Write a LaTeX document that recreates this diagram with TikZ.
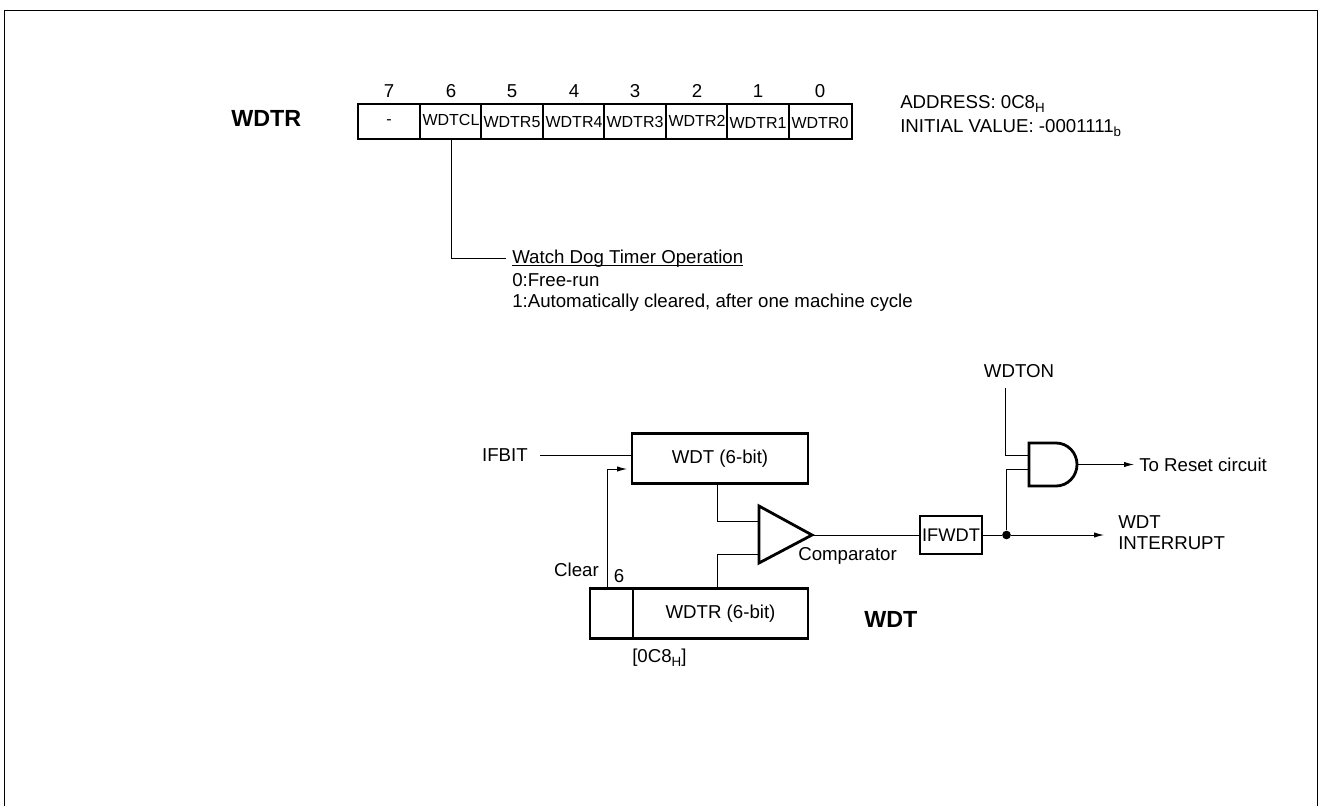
\documentclass[tikz,border=0pt]{standalone}
\usepackage{fontspec}
\setmainfont{Liberation Sans}
\usetikzlibrary{arrows.meta,calc}
\newcommand{\lowidx}[1]{\raisebox{-3pt}{\fontsize{10}{10}\selectfont #1}}

\begin{document}
\begin{tikzpicture}[
  x=.75pt,y=-.75pt,
  label/.style={font=\fontsize{14}{15.75}\selectfont,inner sep=0pt},
  heading/.style={font=\bfseries\fontsize{17.5}{20}\selectfont,inner sep=0pt},
  cell/.style={font=\fontsize{12}{14}\selectfont,inner sep=0pt,text depth=0pt},
  box/.style={draw,line width=2.1pt,inner sep=0pt,outer sep=0pt,font=\fontsize{14}{16}\selectfont},
  gate/.style={line width=2.1pt,line join=miter},
  wire/.style={line width=.7pt},
  arrow/.style={-{Latex[length=7.5pt,width=4pt]},line width=.7pt}
]
\useasboundingbox (0,0) rectangle (1319,806);
\draw[line width=1.1pt] (4.5,806)--(4.5,10.5)--(1317.5,10.5)--(1317.5,806);

% Register
\node[heading,anchor=west] (wdtrname) at (231,118) {WDTR};
\draw[gate] (358,104) rectangle (852,139);
\foreach \x in {420,481,543,604,666,727,789}{\draw[line width=1.2pt] (\x,104)--(\x,139);}
\foreach \x/\b in {389/7,451/6,512/5,574/4,635/3,697/2,758/1,820/0}{\node[label] (bit\b) at (\x,91) {\b};}
\node[cell] (reg7) at (389,122) {-};
\node[cell] (reg6) at (451,120) {WDTCL};
\node[cell] (reg5) at (512,122) {WDTR5};
\node[cell] (reg4) at (574,122) {WDTR4};
\node[cell] (reg3) at (635,122) {WDTR3};
\node[cell] (reg2) at (697,121) {WDTR2};
\node[cell] (reg1) at (758,123) {WDTR1};
\node[cell] (reg0) at (820,123) {WDTR0};
\node[label,anchor=north west,align=left] (address) at (900,95) {ADDRESS: 0C8\lowidx{H}\\[2.25pt]INITIAL VALUE: -0001111\lowidx{b}};

% Bit description
\coordinate (regpin) at (451,139);
\node[label,anchor=north west,align=left] (wdtcl) at (512,250) {\underline{\vphantom{W}\smash{Watch Dog Timer Operation}}\\[1.5pt]0:Free-run\\1:Automatically cleared, after one machine cycle};
\coordinate (wdtclpin) at (506,258);
\draw[wire] (regpin) |- (wdtclpin);

% WDT block
\node[box,minimum width=132pt,minimum height=38pt] (wdt) at (720,458.5) {WDT (6-bit)};
\node[box,minimum width=131.25pt,minimum height=38pt,anchor=west] (wdtr) at (633,613.5) {WDTR (6-bit)};
\node[box,minimum width=32.25pt,minimum height=38pt,anchor=east] (clearbit) at (633,613.5) {};
\node[label,anchor=east] (ifbit) at (528,455) {IFBIT};
\coordinate (ifbitend) at (540,455);
\draw[wire] (ifbitend) -- (ifbitend -| wdt.west);
\coordinate (clearend) at (627,469);
\draw[arrow] (clearbit.north -| 607,0) |- (clearend);
\node[label,anchor=east] (clear) at (599,570) {Clear};
\node[label] (six) at (619,576) {6};
\node[label,anchor=north west] (addr) at (632,649) {[0C8\lowidx{H}]};
\node[heading,anchor=west] (wdtname) at (864,619) {WDT};

% Comparator
\coordinate (cmpa) at (759,521);
\coordinate (cmpb) at (759,554);
\coordinate (cmpout) at (812,535);
\draw[gate] (759,506)--(cmpout)--(759,563)--cycle;
\node[label,anchor=west] (cmp) at (798,556) {Comparator};
\draw[wire] (wdt.south -| 717,0) |- (cmpa);
\draw[wire] (wdtr.north -| 717,0) |- (cmpb);

% Flag and AND gate
\node[box,minimum width=46.5pt,minimum height=28.5pt,font=\fontsize{13.7}{16}\selectfont] (ifwdt) at (951,535) {IFWDT};
\draw[wire] (cmpout) -- (ifwdt.west);
\coordinate (anda) at (1029,455);
\coordinate (andb) at (1029,469);
\coordinate (andout) at (1077,464.5);
\draw[gate] (1029,443)--(1056,443) arc[start angle=90,end angle=-90,x radius=21,y radius=-21.5]--(1029,486)--cycle;
\node[label] (wdton) at (1019,371) {WDTON};
\coordinate (wdtonend) at (1005,388);
\draw[wire] (wdtonend) |- (anda);
\node[circle,fill,inner sep=0pt,minimum size=6.5pt] (dot) at (1006.5,535) {};
\draw[wire] (ifwdt.east) -- (dot);
\draw[wire] (dot) |- (andb);
\node[label,anchor=west] (reset) at (1139,464.5) {To Reset circuit};
\coordinate (resetend) at (1134,464.5);
\draw[arrow] (andout) -- (resetend);
\node[label,anchor=west,align=left] (irq) at (1118,533) {WDT\\INTERRUPT};
\coordinate (irqend) at (1104,535);
\draw[arrow] (dot) -- (irqend);
\end{tikzpicture}
\end{document}
